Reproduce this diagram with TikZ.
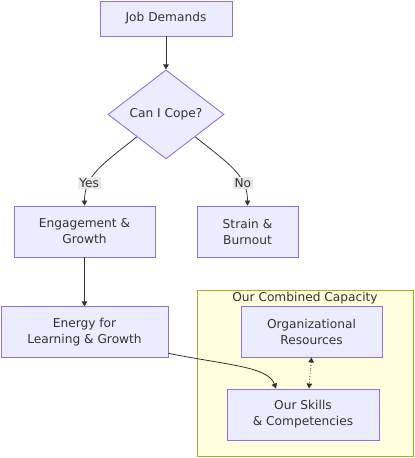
\documentclass[tikz,border=0pt]{standalone}
\usepackage{fontspec}
\setmainfont{DejaVu Sans}
\usepackage{xcolor}
\definecolor{cFill}{HTML}{ECECFF}
\definecolor{cLine}{HTML}{9370DB}
\definecolor{cText}{HTML}{333333}
\definecolor{cGroup}{HTML}{FFFFDE}
\definecolor{cGroupLine}{HTML}{AAAA33}
\definecolor{cLabel}{HTML}{E8E8E8}
\usetikzlibrary{positioning,arrows.meta,shapes.geometric}
\tikzset{
  node-box/.style={draw=cLine,fill=cFill,line width=0.9pt,inner sep=0pt,
    minimum height=51pt,align=center,text=cText,
    font=\fontsize{12.2}{16}\selectfont},
  node-decision/.style={diamond,draw=cLine,fill=cFill,line width=0.9pt,
    inner sep=0pt,aspect=1.3,minimum width=116pt,minimum height=89pt,
    align=center,text=cText,font=\fontsize{12.2}{16}\selectfont},
  node-group/.style={draw=cGroupLine,fill=cGroup,line width=0.9pt,
    minimum width=216pt,minimum height=166pt},
  node-title/.style={text=cText,font=\fontsize{12.2}{16}\selectfont,inner sep=1pt},
  edge-label/.style={fill=cLabel,text=cText,inner sep=1.5pt,
    font=\fontsize{12.2}{14}\selectfont},
  arrow/.style={-{Triangle[length=5pt,width=5.5pt]},line width=0.8pt,draw=cText},
  arrow-dotted/.style={{Triangle[length=5pt,width=5.5pt]}-{Triangle[length=5pt,width=5.5pt]},
    line width=0.8pt,dotted,draw=cText},
}
\begin{document}
\begin{tikzpicture}[x=1pt,y=-1pt]
  \useasboundingbox (0,0) rectangle (415,458);
  % group box first, so it lies under its nodes
  \node[node-group]                        (cap)    at (305,373) {};
  \node[node-title,below=1pt of cap.north] (captxt) {Our Combined Capacity};

  \node[node-box,minimum width=132pt,minimum height=35pt] (job) at (166,18.5) {Job Demands};
  \node[node-decision,below=33pt of job]   (cope)   {Can I Cope?};
  \node[node-box,minimum width=141pt]      (eng)    at (84.5,231.5) {Engagement \&\\Growth};
  \node[node-box,minimum width=101pt]      (strain) at (247.5,231.5) {Strain \&\\Burnout};
  \node[node-box,minimum width=167pt,below=49pt of eng] (energy) {Energy for\\Learning \& Growth};
  \node[node-box,minimum width=141pt]      (org)    at (311.5,331.5) {Organizational\\Resources};
  \node[node-box,minimum width=152pt]      (skills) at (303,414.5) {Our Skills\\\& Competencies};

  \draw[arrow] (job) -- (cope);
  \draw[arrow] (cope.south west) .. controls +(-35,28) and +(0,-30) .. (eng.north)
    node[edge-label,pos=0.7] (yes) {Yes};
  \draw[arrow] (cope.south east) .. controls +(35,28) and +(0,-30) .. (strain.north)
    node[edge-label,pos=0.7] (no) {No};
  \draw[arrow] (eng) -- (energy);
  \draw[arrow] ([yshift=5pt]energy.south east) .. controls +(60,12) and +(-8,-22)
    .. ([xshift=-27pt]skills.north);
  \draw[arrow-dotted] (org.south) -- ([xshift=6pt]skills.north);
\end{tikzpicture}
\end{document}
